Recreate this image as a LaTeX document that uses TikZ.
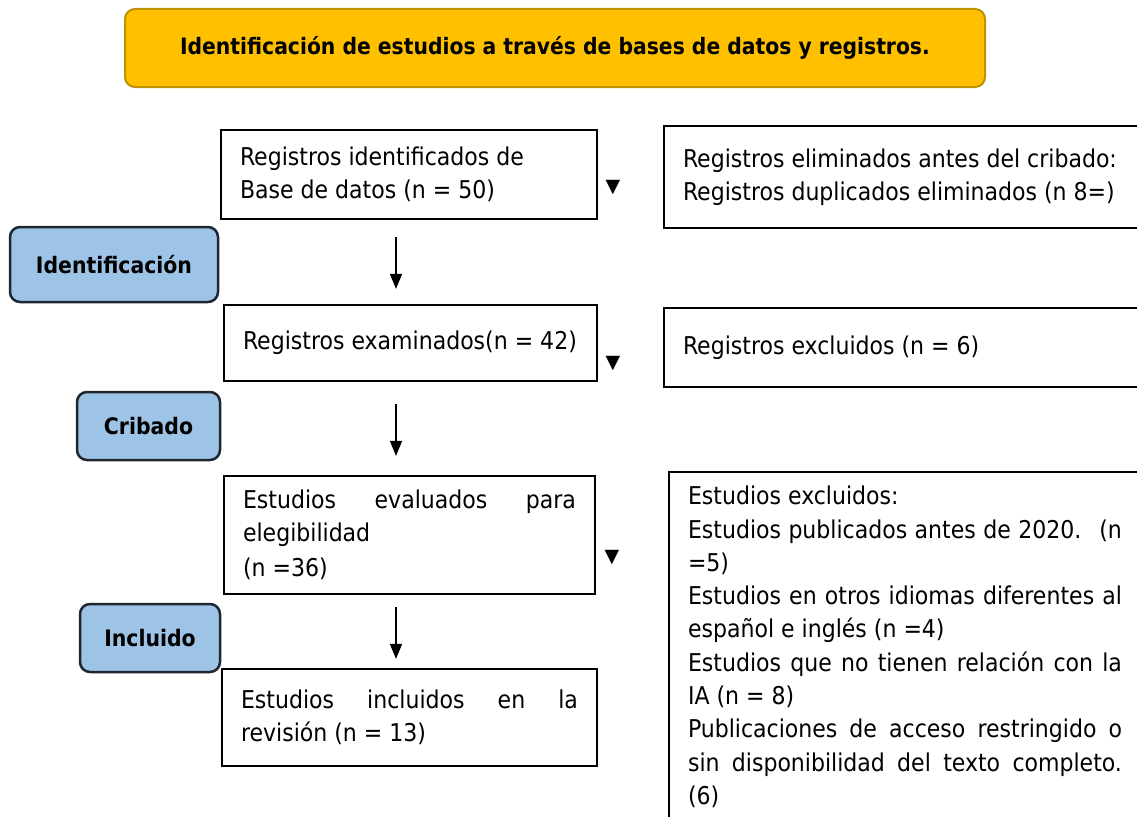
\documentclass[tikz,border=0pt]{standalone}
\usepackage{fontspec}
\setmainfont{DejaVu Sans Condensed}
\newfontfamily\symfont{DejaVu Sans}
\usetikzlibrary{arrows.meta}
\definecolor{titlefill}{HTML}{FFC000}
\definecolor{titleline}{HTML}{BF9000}
\definecolor{phasefill}{HTML}{9DC3E6}
\definecolor{phaseline}{HTML}{1E2630}
\setlength{\parindent}{0pt}

\begin{document}
\begin{tikzpicture}[x=1pt,y=-1pt,>={Triangle[length=15pt,width=12pt]},
    font=\fontsize{24.5}{33}\selectfont,
    box/.style={draw,line width=2.2pt,inner xsep=19pt,inner ysep=0pt,align=justify},
    phase/.style={draw=phaseline,fill=phasefill,line width=2.5pt,rounded corners=10pt,font=\fontsize{22.7}{33}\selectfont\bfseries},
    flow/.style={->,line width=1.5pt},
    tri/.style={font=\symfont\fontsize{19}{19}\selectfont,inner sep=0pt}]
                \useasboundingbox (0,0) rectangle (1137,816);
                \clip (0,0) rectangle (1137,816);
                \node[draw=titleline,fill=titlefill,line width=2pt,rounded corners=10pt,minimum width=860pt,minimum height=78pt,font=\fontsize{22.6}{33}\selectfont\bfseries] (title) at (555,48) {Identificación de estudios a través de bases de datos y registros.};
                \node[box,text width=338pt,minimum height=89pt] (b1) at (409,174.5) {Registros identificados de\\Base de datos (n = 50)};
                \node[box,text width=335pt,minimum height=76pt] (b2) at (410.5,343) {Registros examinados(n = 42)};
                \node[box,text width=333pt,minimum height=118pt] (b3) at (409.5,535) {Estudios evaluados para\linebreak elegibilidad\\[2pt](n =36)};
                \node[box,text width=337pt,minimum height=97pt] (b4) at (409.5,717.5) {Estudios incluidos en la\linebreak revisión (n = 13)};
                \node[box,text width=440pt,minimum height=102pt] (r1) at (903,177) {Registros eliminados antes del cribado:\\Registros duplicados eliminados (n 8=)};
                \node[box,text width=440pt,minimum height=79pt] (r2) at (903,347.5) {Registros excluidos (n = 6)};
                \node[box,text width=434pt,inner ysep=14pt,anchor=north,font=\fontsize{24.5}{33.3}\selectfont] (r3) at (905,471) {Estudios excluidos:\\Estudios publicados antes de 2020.~ (n\linebreak =5)\\Estudios en otros idiomas diferentes al\linebreak español e inglés (n =4)\\Estudios que no tienen relación con la\linebreak IA (n = 8)\\Publicaciones de acceso restringido o\linebreak sin disponibilidad del texto completo.\linebreak (6)\\[20pt]};
                \node[phase,minimum width=208pt,minimum height=75pt] (ident) at (114,264.5) {Identificación};
                \node[phase,minimum width=143pt,minimum height=68pt] (crib) at (148.5,426) {Cribado};
                \node[phase,minimum width=140pt,minimum height=68pt] (incl) at (150,638) {Incluido};
                \node[tri] (t1) at (613,188) {▼};
                \node[tri] (t2) at (613,364) {▼};
                \node[tri] (t3) at (612,558) {▼};
                \draw[flow,shorten <=17pt,shorten >=15pt] ([xshift=-13pt]b1.south) -- ([xshift=-14.5pt]b2.north);
                \draw[flow,shorten <=22pt,shorten >=19pt] ([xshift=-14.5pt]b2.south) -- ([xshift=-13.5pt]b3.north);
                \draw[flow,shorten <=12pt,shorten >=9pt] ([xshift=-13.5pt]b3.south) -- ([xshift=-13.5pt]b4.north);
            \end{tikzpicture}
\end{document}
